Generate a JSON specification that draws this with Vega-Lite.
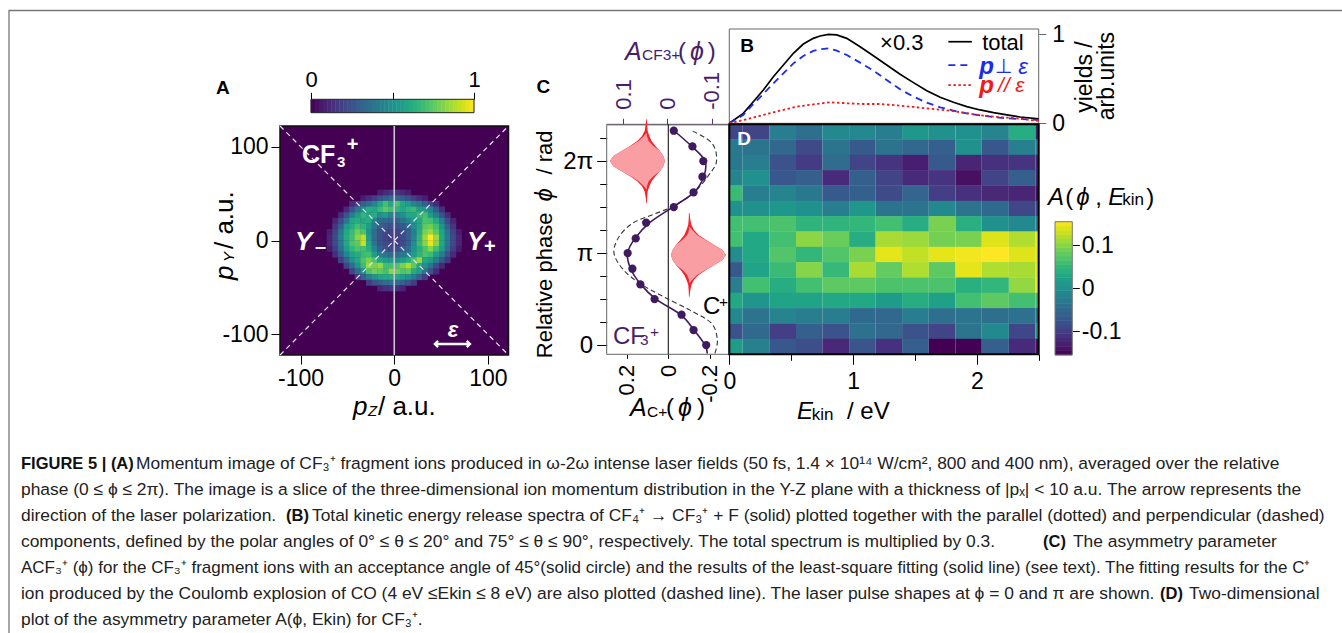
{"$schema":"https://vega.github.io/schema/vega-lite/v6.json","width":1342,"height":633,"padding":0,"autosize":{"type":"none"},"background":"white","config":{"view":{"stroke":null},"axis":{"grid":false,"labelFont":"Liberation Sans","labelColor":"#000","tickColor":"#000","domainColor":"#000","labelFlush":false,"labelOverlap":false,"labelBound":false},"text":{"font":"Liberation Sans"}},
"resolve":{"scale":{"x":"independent","y":"independent","color":"independent"},"axis":{"x":"independent","y":"independent"}},
"datasets":{
"a":[{"z":-15,"y":51,"v":0.08},{"z":-9,"y":51,"v":0.12},{"z":-3,"y":51,"v":0.15},{"z":3,"y":51,"v":0.15},{"z":9,"y":51,"v":0.12},{"z":15,"y":51,"v":0.08},
{"z":-33,"y":45,"v":0.08},{"z":-27,"y":45,"v":0.13},{"z":-21,"y":45,"v":0.18},{"z":-15,"y":45,"v":0.25},{"z":-9,"y":45,"v":0.3},{"z":-3,"y":45,"v":0.35},{"z":3,"y":45,"v":0.33},{"z":9,"y":45,"v":0.3},{"z":15,"y":45,"v":0.25},{"z":21,"y":45,"v":0.18},{"z":27,"y":45,"v":0.13},{"z":33,"y":45,"v":0.08},
{"z":-45,"y":39,"v":0.12},{"z":-39,"y":39,"v":0.2},{"z":-33,"y":39,"v":0.3},{"z":-27,"y":39,"v":0.35},{"z":-21,"y":39,"v":0.45},{"z":-15,"y":39,"v":0.6},{"z":-9,"y":39,"v":0.7},{"z":-3,"y":39,"v":0.6},{"z":3,"y":39,"v":0.72},{"z":9,"y":39,"v":0.6},{"z":15,"y":39,"v":0.55},{"z":21,"y":39,"v":0.45},{"z":27,"y":39,"v":0.4},{"z":33,"y":39,"v":0.3},{"z":39,"y":39,"v":0.2},{"z":45,"y":39,"v":0.12},
{"z":-51,"y":33,"v":0.12},{"z":-45,"y":33,"v":0.25},{"z":-39,"y":33,"v":0.4},{"z":-33,"y":33,"v":0.5},{"z":-27,"y":33,"v":0.62},{"z":-21,"y":33,"v":0.6},{"z":-15,"y":33,"v":0.68},{"z":-9,"y":33,"v":0.75},{"z":-3,"y":33,"v":0.7},{"z":3,"y":33,"v":0.65},{"z":9,"y":33,"v":0.6},{"z":15,"y":33,"v":0.65},{"z":21,"y":33,"v":0.68},{"z":27,"y":33,"v":0.55},{"z":33,"y":33,"v":0.55},{"z":39,"y":33,"v":0.45},{"z":45,"y":33,"v":0.28},{"z":51,"y":33,"v":0.13},
{"z":-57,"y":27,"v":0.12},{"z":-51,"y":27,"v":0.25},{"z":-45,"y":27,"v":0.42},{"z":-39,"y":27,"v":0.55},{"z":-33,"y":27,"v":0.65},{"z":-27,"y":27,"v":0.6},{"z":-21,"y":27,"v":0.62},{"z":-15,"y":27,"v":0.5},{"z":-9,"y":27,"v":0.55},{"z":-3,"y":27,"v":0.45},{"z":3,"y":27,"v":0.45},{"z":9,"y":27,"v":0.5},{"z":15,"y":27,"v":0.6},{"z":21,"y":27,"v":0.6},{"z":27,"y":27,"v":0.68},{"z":33,"y":27,"v":0.7},{"z":39,"y":27,"v":0.55},{"z":45,"y":27,"v":0.42},{"z":51,"y":27,"v":0.25},{"z":57,"y":27,"v":0.12},
{"z":-63,"y":21,"v":0.1},{"z":-57,"y":21,"v":0.22},{"z":-51,"y":21,"v":0.4},{"z":-45,"y":21,"v":0.6},{"z":-39,"y":21,"v":0.62},{"z":-33,"y":21,"v":0.6},{"z":-27,"y":21,"v":0.62},{"z":-21,"y":21,"v":0.45},{"z":-15,"y":21,"v":0.35},{"z":-9,"y":21,"v":0.32},{"z":-3,"y":21,"v":0.32},{"z":3,"y":21,"v":0.3},{"z":9,"y":21,"v":0.38},{"z":15,"y":21,"v":0.45},{"z":21,"y":21,"v":0.55},{"z":27,"y":21,"v":0.6},{"z":33,"y":21,"v":0.72},{"z":39,"y":21,"v":0.7},{"z":45,"y":21,"v":0.6},{"z":51,"y":21,"v":0.42},{"z":57,"y":21,"v":0.22},{"z":63,"y":21,"v":0.1},
{"z":-63,"y":15,"v":0.15},{"z":-57,"y":15,"v":0.3},{"z":-51,"y":15,"v":0.55},{"z":-45,"y":15,"v":0.62},{"z":-39,"y":15,"v":0.7},{"z":-33,"y":15,"v":0.65},{"z":-27,"y":15,"v":0.55},{"z":-21,"y":15,"v":0.4},{"z":-15,"y":15,"v":0.3},{"z":-9,"y":15,"v":0.27},{"z":-3,"y":15,"v":0.25},{"z":3,"y":15,"v":0.25},{"z":9,"y":15,"v":0.28},{"z":15,"y":15,"v":0.35},{"z":21,"y":15,"v":0.48},{"z":27,"y":15,"v":0.6},{"z":33,"y":15,"v":0.75},{"z":39,"y":15,"v":0.78},{"z":45,"y":15,"v":0.7},{"z":51,"y":15,"v":0.52},{"z":57,"y":15,"v":0.3},{"z":63,"y":15,"v":0.15},
{"z":-69,"y":9,"v":0.08},{"z":-63,"y":9,"v":0.2},{"z":-57,"y":9,"v":0.4},{"z":-51,"y":9,"v":0.6},{"z":-45,"y":9,"v":0.68},{"z":-39,"y":9,"v":0.78},{"z":-33,"y":9,"v":0.72},{"z":-27,"y":9,"v":0.5},{"z":-21,"y":9,"v":0.35},{"z":-15,"y":9,"v":0.25},{"z":-9,"y":9,"v":0.22},{"z":-3,"y":9,"v":0.2},{"z":3,"y":9,"v":0.2},{"z":9,"y":9,"v":0.22},{"z":15,"y":9,"v":0.3},{"z":21,"y":9,"v":0.42},{"z":27,"y":9,"v":0.62},{"z":33,"y":9,"v":0.8},{"z":39,"y":9,"v":0.85},{"z":45,"y":9,"v":0.75},{"z":51,"y":9,"v":0.58},{"z":57,"y":9,"v":0.38},{"z":63,"y":9,"v":0.2},{"z":69,"y":9,"v":0.08},
{"z":-69,"y":3,"v":0.1},{"z":-63,"y":3,"v":0.22},{"z":-57,"y":3,"v":0.42},{"z":-51,"y":3,"v":0.62},{"z":-45,"y":3,"v":0.7},{"z":-39,"y":3,"v":0.82},{"z":-33,"y":3,"v":0.9},{"z":-27,"y":3,"v":0.55},{"z":-21,"y":3,"v":0.35},{"z":-15,"y":3,"v":0.25},{"z":-9,"y":3,"v":0.2},{"z":-3,"y":3,"v":0.18},{"z":3,"y":3,"v":0.2},{"z":9,"y":3,"v":0.22},{"z":15,"y":3,"v":0.3},{"z":21,"y":3,"v":0.45},{"z":27,"y":3,"v":0.65},{"z":33,"y":3,"v":0.85},{"z":39,"y":3,"v":1},{"z":45,"y":3,"v":0.85},{"z":51,"y":3,"v":0.6},{"z":57,"y":3,"v":0.4},{"z":63,"y":3,"v":0.22},{"z":69,"y":3,"v":0.1},
{"z":-69,"y":-3,"v":0.1},{"z":-63,"y":-3,"v":0.22},{"z":-57,"y":-3,"v":0.4},{"z":-51,"y":-3,"v":0.6},{"z":-45,"y":-3,"v":0.72},{"z":-39,"y":-3,"v":0.75},{"z":-33,"y":-3,"v":0.92},{"z":-27,"y":-3,"v":0.6},{"z":-21,"y":-3,"v":0.38},{"z":-15,"y":-3,"v":0.25},{"z":-9,"y":-3,"v":0.22},{"z":-3,"y":-3,"v":0.2},{"z":3,"y":-3,"v":0.18},{"z":9,"y":-3,"v":0.22},{"z":15,"y":-3,"v":0.3},{"z":21,"y":-3,"v":0.48},{"z":27,"y":-3,"v":0.68},{"z":33,"y":-3,"v":0.82},{"z":39,"y":-3,"v":0.97},{"z":45,"y":-3,"v":0.82},{"z":51,"y":-3,"v":0.6},{"z":57,"y":-3,"v":0.4},{"z":63,"y":-3,"v":0.22},{"z":69,"y":-3,"v":0.1},
{"z":-69,"y":-9,"v":0.07},{"z":-63,"y":-9,"v":0.18},{"z":-57,"y":-9,"v":0.36},{"z":-51,"y":-9,"v":0.55},{"z":-45,"y":-9,"v":0.66},{"z":-39,"y":-9,"v":0.72},{"z":-33,"y":-9,"v":0.7},{"z":-27,"y":-9,"v":0.62},{"z":-21,"y":-9,"v":0.45},{"z":-15,"y":-9,"v":0.3},{"z":-9,"y":-9,"v":0.25},{"z":-3,"y":-9,"v":0.22},{"z":3,"y":-9,"v":0.22},{"z":9,"y":-9,"v":0.28},{"z":15,"y":-9,"v":0.35},{"z":21,"y":-9,"v":0.52},{"z":27,"y":-9,"v":0.62},{"z":33,"y":-9,"v":0.72},{"z":39,"y":-9,"v":0.82},{"z":45,"y":-9,"v":0.7},{"z":51,"y":-9,"v":0.55},{"z":57,"y":-9,"v":0.35},{"z":63,"y":-9,"v":0.18},{"z":69,"y":-9,"v":0.07},
{"z":-63,"y":-15,"v":0.13},{"z":-57,"y":-15,"v":0.28},{"z":-51,"y":-15,"v":0.45},{"z":-45,"y":-15,"v":0.58},{"z":-39,"y":-15,"v":0.62},{"z":-33,"y":-15,"v":0.68},{"z":-27,"y":-15,"v":0.7},{"z":-21,"y":-15,"v":0.55},{"z":-15,"y":-15,"v":0.42},{"z":-9,"y":-15,"v":0.38},{"z":-3,"y":-15,"v":0.35},{"z":3,"y":-15,"v":0.35},{"z":9,"y":-15,"v":0.4},{"z":15,"y":-15,"v":0.45},{"z":21,"y":-15,"v":0.55},{"z":27,"y":-15,"v":0.65},{"z":33,"y":-15,"v":0.72},{"z":39,"y":-15,"v":0.68},{"z":45,"y":-15,"v":0.55},{"z":51,"y":-15,"v":0.42},{"z":57,"y":-15,"v":0.25},{"z":63,"y":-15,"v":0.12},
{"z":-57,"y":-21,"v":0.18},{"z":-51,"y":-21,"v":0.32},{"z":-45,"y":-21,"v":0.5},{"z":-39,"y":-21,"v":0.6},{"z":-33,"y":-21,"v":0.72},{"z":-27,"y":-21,"v":0.8},{"z":-21,"y":-21,"v":0.72},{"z":-15,"y":-21,"v":0.6},{"z":-9,"y":-21,"v":0.55},{"z":-3,"y":-21,"v":0.55},{"z":3,"y":-21,"v":0.5},{"z":9,"y":-21,"v":0.55},{"z":15,"y":-21,"v":0.62},{"z":21,"y":-21,"v":0.72},{"z":27,"y":-21,"v":0.85},{"z":33,"y":-21,"v":0.6},{"z":39,"y":-21,"v":0.55},{"z":45,"y":-21,"v":0.42},{"z":51,"y":-21,"v":0.28},{"z":57,"y":-21,"v":0.15},
{"z":-51,"y":-27,"v":0.2},{"z":-45,"y":-27,"v":0.35},{"z":-39,"y":-27,"v":0.52},{"z":-33,"y":-27,"v":0.68},{"z":-27,"y":-27,"v":0.85},{"z":-21,"y":-27,"v":0.8},{"z":-15,"y":-27,"v":0.85},{"z":-9,"y":-27,"v":0.7},{"z":-3,"y":-27,"v":0.7},{"z":3,"y":-27,"v":0.72},{"z":9,"y":-27,"v":0.8},{"z":15,"y":-27,"v":0.88},{"z":21,"y":-27,"v":0.75},{"z":27,"y":-27,"v":0.6},{"z":33,"y":-27,"v":0.5},{"z":39,"y":-27,"v":0.38},{"z":45,"y":-27,"v":0.22},{"z":51,"y":-27,"v":0.1},
{"z":-45,"y":-33,"v":0.2},{"z":-39,"y":-33,"v":0.35},{"z":-33,"y":-33,"v":0.5},{"z":-27,"y":-33,"v":0.72},{"z":-21,"y":-33,"v":0.78},{"z":-15,"y":-33,"v":0.75},{"z":-9,"y":-33,"v":0.7},{"z":-3,"y":-33,"v":0.82},{"z":3,"y":-33,"v":0.78},{"z":9,"y":-33,"v":0.72},{"z":15,"y":-33,"v":0.75},{"z":21,"y":-33,"v":0.62},{"z":27,"y":-33,"v":0.55},{"z":33,"y":-33,"v":0.4},{"z":39,"y":-33,"v":0.25},{"z":45,"y":-33,"v":0.12},
{"z":-39,"y":-39,"v":0.17},{"z":-33,"y":-39,"v":0.3},{"z":-27,"y":-39,"v":0.42},{"z":-21,"y":-39,"v":0.52},{"z":-15,"y":-39,"v":0.58},{"z":-9,"y":-39,"v":0.6},{"z":-3,"y":-39,"v":0.62},{"z":3,"y":-39,"v":0.6},{"z":9,"y":-39,"v":0.55},{"z":15,"y":-39,"v":0.5},{"z":21,"y":-39,"v":0.42},{"z":27,"y":-39,"v":0.3},{"z":33,"y":-39,"v":0.18},
{"z":-27,"y":-45,"v":0.17},{"z":-21,"y":-45,"v":0.25},{"z":-15,"y":-45,"v":0.3},{"z":-9,"y":-45,"v":0.35},{"z":-3,"y":-45,"v":0.38},{"z":3,"y":-45,"v":0.35},{"z":9,"y":-45,"v":0.3},{"z":15,"y":-45,"v":0.25},{"z":21,"y":-45,"v":0.17},
{"z":-15,"y":-51,"v":0.1},{"z":-9,"y":-51,"v":0.14},{"z":-3,"y":-51,"v":0.16},{"z":3,"y":-51,"v":0.14},{"z":9,"y":-51,"v":0.1}],
"abar":[{"v":0.0125},{"v":0.0375},{"v":0.0625},{"v":0.0875},{"v":0.1125},{"v":0.1375},{"v":0.1625},{"v":0.1875},{"v":0.2125},{"v":0.2375},{"v":0.2625},{"v":0.2875},{"v":0.3125},{"v":0.3375},{"v":0.3625},{"v":0.3875},{"v":0.4125},{"v":0.4375},{"v":0.4625},{"v":0.4875},{"v":0.5125},{"v":0.5375},{"v":0.5625},{"v":0.5875},{"v":0.6125},{"v":0.6375},{"v":0.6625},{"v":0.6875},{"v":0.7125},{"v":0.7375},{"v":0.7625},{"v":0.7875},{"v":0.8125},{"v":0.8375},{"v":0.8625},{"v":0.8875},{"v":0.9125},{"v":0.9375},{"v":0.9625},{"v":0.9875}],
"dbar":[{"v":-0.15},{"v":-0.14},{"v":-0.13},{"v":-0.12},{"v":-0.11},{"v":-0.1},{"v":-0.09},{"v":-0.08},{"v":-0.07},{"v":-0.06},{"v":-0.05},{"v":-0.04},{"v":-0.03},{"v":-0.02},{"v":-0.01},{"v":0},{"v":0.01},{"v":0.02},{"v":0.03},{"v":0.04},{"v":0.05},{"v":0.06},{"v":0.07},{"v":0.08},{"v":0.09},{"v":0.1},{"v":0.11},{"v":0.12},{"v":0.13},{"v":0.14},{"v":0.15}],
"d":[
{"e0":0,"e1":0.108,"p":2.317,"v":-0.093},{"e0":0.108,"e1":0.323,"p":2.317,"v":-0.093},{"e0":0.323,"e1":0.539,"p":2.317,"v":-0.025},{"e0":0.539,"e1":0.752,"p":2.317,"v":-0.043},{"e0":0.752,"e1":0.968,"p":2.317,"v":-0.009},{"e0":0.968,"e1":1.183,"p":2.317,"v":-0.009},{"e0":1.183,"e1":1.396,"p":2.317,"v":-0.025},{"e0":1.396,"e1":1.612,"p":2.317,"v":0.009},{"e0":1.612,"e1":1.828,"p":2.317,"v":0},{"e0":1.828,"e1":2.04,"p":2.317,"v":0},{"e0":2.04,"e1":2.259,"p":2.317,"v":-0.016},{"e0":2.259,"e1":2.474,"p":2.317,"v":0.037},{"e0":2.474,"e1":2.5,"p":2.317,"v":-0.13},
{"e0":0,"e1":0.108,"p":2.15,"v":-0.031},{"e0":0.108,"e1":0.323,"p":2.15,"v":-0.037},{"e0":0.323,"e1":0.539,"p":2.15,"v":-0.053},{"e0":0.539,"e1":0.752,"p":2.15,"v":-0.087},{"e0":0.752,"e1":0.968,"p":2.15,"v":-0.037},{"e0":0.968,"e1":1.183,"p":2.15,"v":-0.068},{"e0":1.183,"e1":1.396,"p":2.15,"v":-0.037},{"e0":1.396,"e1":1.612,"p":2.15,"v":-0.053},{"e0":1.612,"e1":1.828,"p":2.15,"v":-0.062},{"e0":1.828,"e1":2.04,"p":2.15,"v":0},{"e0":2.04,"e1":2.259,"p":2.15,"v":-0.071},{"e0":2.259,"e1":2.474,"p":2.15,"v":-0.022},{"e0":2.474,"e1":2.5,"p":2.15,"v":-0.031},
{"e0":0,"e1":0.108,"p":1.983,"v":-0.031},{"e0":0.108,"e1":0.323,"p":1.983,"v":-0.025},{"e0":0.323,"e1":0.539,"p":1.983,"v":-0.078},{"e0":0.539,"e1":0.752,"p":1.983,"v":-0.102},{"e0":0.752,"e1":0.968,"p":1.983,"v":-0.047},{"e0":0.968,"e1":1.183,"p":1.983,"v":-0.093},{"e0":1.183,"e1":1.396,"p":1.983,"v":-0.109},{"e0":1.396,"e1":1.612,"p":1.983,"v":-0.13},{"e0":1.612,"e1":1.828,"p":1.983,"v":-0.068},{"e0":1.828,"e1":2.04,"p":1.983,"v":-0.124},{"e0":2.04,"e1":2.259,"p":1.983,"v":-0.112},{"e0":2.259,"e1":2.474,"p":1.983,"v":-0.109},{"e0":2.474,"e1":2.5,"p":1.983,"v":-0.124},
{"e0":0,"e1":0.108,"p":1.817,"v":-0.016},{"e0":0.108,"e1":0.323,"p":1.817,"v":0},{"e0":0.323,"e1":0.539,"p":1.817,"v":-0.071},{"e0":0.539,"e1":0.752,"p":1.817,"v":-0.062},{"e0":0.752,"e1":0.968,"p":1.817,"v":-0.118},{"e0":0.968,"e1":1.183,"p":1.817,"v":-0.062},{"e0":1.183,"e1":1.396,"p":1.817,"v":-0.093},{"e0":1.396,"e1":1.612,"p":1.817,"v":-0.118},{"e0":1.612,"e1":1.828,"p":1.817,"v":-0.109},{"e0":1.828,"e1":2.04,"p":1.817,"v":-0.143},{"e0":2.04,"e1":2.259,"p":1.817,"v":-0.093},{"e0":2.259,"e1":2.474,"p":1.817,"v":-0.062},{"e0":2.474,"e1":2.5,"p":1.817,"v":-0.124},
{"e0":0,"e1":0.108,"p":1.65,"v":0.056},{"e0":0.108,"e1":0.323,"p":1.65,"v":-0.025},{"e0":0.323,"e1":0.539,"p":1.65,"v":-0.016},{"e0":0.539,"e1":0.752,"p":1.65,"v":-0.031},{"e0":0.752,"e1":0.968,"p":1.65,"v":-0.068},{"e0":0.968,"e1":1.183,"p":1.65,"v":-0.062},{"e0":1.183,"e1":1.396,"p":1.65,"v":-0.087},{"e0":1.396,"e1":1.612,"p":1.65,"v":-0.056},{"e0":1.612,"e1":1.828,"p":1.65,"v":-0.099},{"e0":1.828,"e1":2.04,"p":1.65,"v":-0.112},{"e0":2.04,"e1":2.259,"p":1.65,"v":-0.121},{"e0":2.259,"e1":2.474,"p":1.65,"v":-0.124},{"e0":2.474,"e1":2.5,"p":1.65,"v":-0.146},
{"e0":0,"e1":0.108,"p":1.483,"v":0},{"e0":0.108,"e1":0.323,"p":1.483,"v":0},{"e0":0.323,"e1":0.539,"p":1.483,"v":0.009},{"e0":0.539,"e1":0.752,"p":1.483,"v":0},{"e0":0.752,"e1":0.968,"p":1.483,"v":-0.025},{"e0":0.968,"e1":1.183,"p":1.483,"v":0.009},{"e0":1.183,"e1":1.396,"p":1.483,"v":-0.037},{"e0":1.396,"e1":1.612,"p":1.483,"v":-0.037},{"e0":1.612,"e1":1.828,"p":1.483,"v":-0.009},{"e0":1.828,"e1":2.04,"p":1.483,"v":-0.037},{"e0":2.04,"e1":2.259,"p":1.483,"v":-0.05},{"e0":2.259,"e1":2.474,"p":1.483,"v":-0.09},{"e0":2.474,"e1":2.5,"p":1.483,"v":-0.093},
{"e0":0,"e1":0.108,"p":1.317,"v":0.062},{"e0":0.108,"e1":0.323,"p":1.317,"v":0.062},{"e0":0.323,"e1":0.539,"p":1.317,"v":0.068},{"e0":0.539,"e1":0.752,"p":1.317,"v":0.047},{"e0":0.752,"e1":0.968,"p":1.317,"v":0.047},{"e0":0.968,"e1":1.183,"p":1.317,"v":0.05},{"e0":1.183,"e1":1.396,"p":1.317,"v":0.062},{"e0":1.396,"e1":1.612,"p":1.317,"v":0.037},{"e0":1.612,"e1":1.828,"p":1.317,"v":0.093},{"e0":1.828,"e1":2.04,"p":1.317,"v":0.04},{"e0":2.04,"e1":2.259,"p":1.317,"v":0},{"e0":2.259,"e1":2.474,"p":1.317,"v":-0.009},{"e0":2.474,"e1":2.5,"p":1.317,"v":-0.016},
{"e0":0,"e1":0.108,"p":1.15,"v":0.062},{"e0":0.108,"e1":0.323,"p":1.15,"v":0.031},{"e0":0.323,"e1":0.539,"p":1.15,"v":0.062},{"e0":0.539,"e1":0.752,"p":1.15,"v":0.102},{"e0":0.752,"e1":0.968,"p":1.15,"v":0.084},{"e0":0.968,"e1":1.183,"p":1.15,"v":0.037},{"e0":1.183,"e1":1.396,"p":1.15,"v":0.115},{"e0":1.396,"e1":1.612,"p":1.15,"v":0.109},{"e0":1.612,"e1":1.828,"p":1.15,"v":0.09},{"e0":1.828,"e1":2.04,"p":1.15,"v":0.093},{"e0":2.04,"e1":2.259,"p":1.15,"v":0.14},{"e0":2.259,"e1":2.474,"p":1.15,"v":0.118},{"e0":2.474,"e1":2.5,"p":1.15,"v":0.146},
{"e0":0,"e1":0.108,"p":0.983,"v":-0.006},{"e0":0.108,"e1":0.323,"p":0.983,"v":0.031},{"e0":0.323,"e1":0.539,"p":0.983,"v":0.071},{"e0":0.539,"e1":0.752,"p":0.983,"v":0.05},{"e0":0.752,"e1":0.968,"p":0.983,"v":0.071},{"e0":0.968,"e1":1.183,"p":0.983,"v":0.093},{"e0":1.183,"e1":1.396,"p":0.983,"v":0.143},{"e0":1.396,"e1":1.612,"p":0.983,"v":0.127},{"e0":1.612,"e1":1.828,"p":0.983,"v":0.143},{"e0":1.828,"e1":2.04,"p":0.983,"v":0.149},{"e0":2.04,"e1":2.259,"p":0.983,"v":0.155},{"e0":2.259,"e1":2.474,"p":0.983,"v":0.14},{"e0":2.474,"e1":2.5,"p":0.983,"v":0.14},
{"e0":0,"e1":0.108,"p":0.817,"v":-0.068},{"e0":0.108,"e1":0.323,"p":0.817,"v":0.025},{"e0":0.323,"e1":0.539,"p":0.817,"v":0.056},{"e0":0.539,"e1":0.752,"p":0.817,"v":0.099},{"e0":0.752,"e1":0.968,"p":0.817,"v":0.053},{"e0":0.968,"e1":1.183,"p":0.817,"v":0.115},{"e0":1.183,"e1":1.396,"p":0.817,"v":0.081},{"e0":1.396,"e1":1.612,"p":0.817,"v":0.118},{"e0":1.612,"e1":1.828,"p":0.817,"v":0.078},{"e0":1.828,"e1":2.04,"p":0.817,"v":0.143},{"e0":2.04,"e1":2.259,"p":0.817,"v":0.118},{"e0":2.259,"e1":2.474,"p":0.817,"v":0.115},{"e0":2.474,"e1":2.5,"p":0.817,"v":0.14},
{"e0":0,"e1":0.108,"p":0.65,"v":-0.025},{"e0":0.108,"e1":0.323,"p":0.65,"v":0.062},{"e0":0.323,"e1":0.539,"p":0.65,"v":0.037},{"e0":0.539,"e1":0.752,"p":0.65,"v":0.062},{"e0":0.752,"e1":0.968,"p":0.65,"v":0.078},{"e0":0.968,"e1":1.183,"p":0.65,"v":0.078},{"e0":1.183,"e1":1.396,"p":0.65,"v":0.068},{"e0":1.396,"e1":1.612,"p":0.65,"v":0.068},{"e0":1.612,"e1":1.828,"p":0.65,"v":0.068},{"e0":1.828,"e1":2.04,"p":0.65,"v":0.04},{"e0":2.04,"e1":2.259,"p":0.65,"v":0.05},{"e0":2.259,"e1":2.474,"p":0.65,"v":0.105},{"e0":2.474,"e1":2.5,"p":0.65,"v":0.146},
{"e0":0,"e1":0.108,"p":0.483,"v":0.031},{"e0":0.108,"e1":0.323,"p":0.483,"v":0.006},{"e0":0.323,"e1":0.539,"p":0.483,"v":0.025},{"e0":0.539,"e1":0.752,"p":0.483,"v":0.025},{"e0":0.752,"e1":0.968,"p":0.483,"v":0.031},{"e0":0.968,"e1":1.183,"p":0.483,"v":0.031},{"e0":1.183,"e1":1.396,"p":0.483,"v":0.016},{"e0":1.396,"e1":1.612,"p":0.483,"v":0.037},{"e0":1.612,"e1":1.828,"p":0.483,"v":0.022},{"e0":1.828,"e1":2.04,"p":0.483,"v":0.062},{"e0":2.04,"e1":2.259,"p":0.483,"v":0.078},{"e0":2.259,"e1":2.474,"p":0.483,"v":0.062},{"e0":2.474,"e1":2.5,"p":0.483,"v":0.062},
{"e0":0,"e1":0.108,"p":0.317,"v":-0.009},{"e0":0.108,"e1":0.323,"p":0.317,"v":-0.037},{"e0":0.323,"e1":0.539,"p":0.317,"v":-0.016},{"e0":0.539,"e1":0.752,"p":0.317,"v":-0.025},{"e0":0.752,"e1":0.968,"p":0.317,"v":-0.025},{"e0":0.968,"e1":1.183,"p":0.317,"v":-0.05},{"e0":1.183,"e1":1.396,"p":0.317,"v":-0.053},{"e0":1.396,"e1":1.612,"p":0.317,"v":-0.025},{"e0":1.612,"e1":1.828,"p":0.317,"v":-0.043},{"e0":1.828,"e1":2.04,"p":0.317,"v":-0.037},{"e0":2.04,"e1":2.259,"p":0.317,"v":-0.043},{"e0":2.259,"e1":2.474,"p":0.317,"v":-0.04},{"e0":2.474,"e1":2.5,"p":0.317,"v":-0.037},
{"e0":0,"e1":0.108,"p":0.15,"v":-0.078},{"e0":0.108,"e1":0.323,"p":0.15,"v":-0.05},{"e0":0.323,"e1":0.539,"p":0.15,"v":-0.099},{"e0":0.539,"e1":0.752,"p":0.15,"v":-0.062},{"e0":0.752,"e1":0.968,"p":0.15,"v":-0.078},{"e0":0.968,"e1":1.183,"p":0.15,"v":-0.04},{"e0":1.183,"e1":1.396,"p":0.15,"v":-0.053},{"e0":1.396,"e1":1.612,"p":0.15,"v":-0.078},{"e0":1.612,"e1":1.828,"p":0.15,"v":-0.093},{"e0":1.828,"e1":2.04,"p":0.15,"v":-0.037},{"e0":2.04,"e1":2.259,"p":0.15,"v":-0.009},{"e0":2.259,"e1":2.474,"p":0.15,"v":-0.09},{"e0":2.474,"e1":2.5,"p":0.15,"v":0.016},
{"e0":0,"e1":0.108,"p":-0.017,"v":0.016},{"e0":0.108,"e1":0.323,"p":-0.017,"v":-0.022},{"e0":0.323,"e1":0.539,"p":-0.017,"v":-0.071},{"e0":0.539,"e1":0.752,"p":-0.017,"v":-0.081},{"e0":0.752,"e1":0.968,"p":-0.017,"v":-0.121},{"e0":0.968,"e1":1.183,"p":-0.017,"v":-0.074},{"e0":1.183,"e1":1.396,"p":-0.017,"v":-0.112},{"e0":1.396,"e1":1.612,"p":-0.017,"v":-0.062},{"e0":1.612,"e1":1.828,"p":-0.017,"v":-0.155},{"e0":1.828,"e1":2.04,"p":-0.017,"v":-0.155},{"e0":2.04,"e1":2.259,"p":-0.017,"v":-0.062},{"e0":2.259,"e1":2.474,"p":-0.017,"v":-0.118},{"e0":2.474,"e1":2.5,"p":-0.017,"v":-0.146}],
"total":[{"e":0,"y":0},{"e":0.113,"y":0.112},{"e":0.194,"y":0.243},{"e":0.275,"y":0.375},{"e":0.356,"y":0.524},{"e":0.437,"y":0.655},{"e":0.518,"y":0.787},{"e":0.598,"y":0.891},{"e":0.679,"y":0.955},{"e":0.733,"y":0.981},{"e":0.801,"y":1},{"e":0.868,"y":0.993},{"e":0.949,"y":0.955},{"e":1.057,"y":0.861},{"e":1.164,"y":0.76},{"e":1.272,"y":0.655},{"e":1.38,"y":0.551},{"e":1.488,"y":0.457},{"e":1.596,"y":0.367},{"e":1.704,"y":0.292},{"e":1.811,"y":0.236},{"e":1.919,"y":0.187},{"e":2.027,"y":0.15},{"e":2.135,"y":0.12},{"e":2.243,"y":0.094},{"e":2.35,"y":0.071},{"e":2.5,"y":0.049}],
"perp":[{"e":0,"y":0},{"e":0.113,"y":0.094},{"e":0.194,"y":0.217},{"e":0.275,"y":0.33},{"e":0.356,"y":0.449},{"e":0.437,"y":0.562},{"e":0.518,"y":0.674},{"e":0.598,"y":0.757},{"e":0.679,"y":0.813},{"e":0.747,"y":0.835},{"e":0.801,"y":0.843},{"e":0.868,"y":0.816},{"e":0.949,"y":0.768},{"e":1.057,"y":0.682},{"e":1.164,"y":0.592},{"e":1.272,"y":0.487},{"e":1.38,"y":0.382},{"e":1.488,"y":0.3},{"e":1.596,"y":0.232},{"e":1.704,"y":0.18},{"e":1.811,"y":0.142},{"e":1.919,"y":0.112},{"e":2.027,"y":0.09},{"e":2.135,"y":0.071},{"e":2.243,"y":0.056},{"e":2.5,"y":0.037}],
"par":[{"e":0,"y":0},{"e":0.14,"y":0.045},{"e":0.275,"y":0.094},{"e":0.41,"y":0.142},{"e":0.544,"y":0.187},{"e":0.679,"y":0.213},{"e":0.814,"y":0.236},{"e":0.949,"y":0.225},{"e":1.084,"y":0.217},{"e":1.218,"y":0.217},{"e":1.353,"y":0.202},{"e":1.488,"y":0.184},{"e":1.623,"y":0.165},{"e":1.757,"y":0.146},{"e":1.892,"y":0.12},{"e":2.027,"y":0.09},{"e":2.162,"y":0.071},{"e":2.297,"y":0.06},{"e":2.5,"y":0.026}],
"circ":[{"a":-0.0876,"phi":0},{"a":-0.059,"phi":0.164},{"a":-0.032,"phi":0.33},{"a":0.029,"phi":0.5},{"a":0.061,"phi":0.66},{"a":0.079,"phi":0.83},{"a":0.0897,"phi":1},{"a":0.0715,"phi":1.16},{"a":0.048,"phi":1.33},{"a":-0.0144,"phi":1.5},{"a":-0.059,"phi":1.66},{"a":-0.079,"phi":1.83},{"a":-0.081,"phi":2},{"a":-0.0565,"phi":2.16},{"a":-0.0144,"phi":2.33}],
"fit":[{"a":-0.09,"phi":-0.09},{"a":-0.085,"phi":0},{"a":-0.06,"phi":0.164},{"a":-0.03,"phi":0.33},{"a":0.026,"phi":0.5},{"a":0.06,"phi":0.66},{"a":0.083,"phi":0.83},{"a":0.09,"phi":1},{"a":0.073,"phi":1.16},{"a":0.04,"phi":1.33},{"a":-0.012,"phi":1.5},{"a":-0.06,"phi":1.66},{"a":-0.082,"phi":1.83},{"a":-0.085,"phi":2},{"a":-0.055,"phi":2.16},{"a":-0.015,"phi":2.33}],
"cfit":[{"a":-0.224,"phi":-0.09},{"a":-0.236,"phi":0.055},{"a":-0.208,"phi":0.236},{"a":-0.104,"phi":0.38},{"a":0.024,"phi":0.527},{"a":0.136,"phi":0.67},{"a":0.216,"phi":0.82},{"a":0.261,"phi":1},{"a":0.236,"phi":1.18},{"a":0.168,"phi":1.33},{"a":0.072,"phi":1.42},{"a":-0.024,"phi":1.51},{"a":-0.12,"phi":1.65},{"a":-0.192,"phi":1.84},{"a":-0.232,"phi":2},{"a":-0.208,"phi":2.2},{"a":-0.104,"phi":2.34}],
"red":[{"p":"b","phi":1.545,"a":0.1056,"b":0.1024},{"p":"b","phi":1.6,"a":0.108,"b":0.1016},{"p":"b","phi":1.673,"a":0.114,"b":0.099},{"p":"b","phi":1.727,"a":0.126,"b":0.091},{"p":"b","phi":1.782,"a":0.149,"b":0.08},{"p":"b","phi":1.836,"a":0.184,"b":0.062},{"p":"b","phi":1.891,"a":0.224,"b":0.04},{"p":"b","phi":1.945,"a":0.264,"b":0.024},{"p":"b","phi":2,"a":0.28,"b":0.016},{"p":"b","phi":2.055,"a":0.264,"b":0.024},{"p":"b","phi":2.109,"a":0.224,"b":0.04},{"p":"b","phi":2.164,"a":0.184,"b":0.062},{"p":"b","phi":2.218,"a":0.149,"b":0.08},{"p":"b","phi":2.273,"a":0.126,"b":0.091},{"p":"b","phi":2.327,"a":0.114,"b":0.099},{"p":"b","phi":2.4,"a":0.108,"b":0.1016},{"p":"b","phi":2.455,"a":0.1056,"b":0.1024},
{"p":"a","phi":0.525,"a":-0.0994,"b":-0.1026},{"p":"a","phi":0.58,"a":-0.0986,"b":-0.105},{"p":"a","phi":0.653,"a":-0.096,"b":-0.111},{"p":"a","phi":0.707,"a":-0.088,"b":-0.123},{"p":"a","phi":0.762,"a":-0.077,"b":-0.146},{"p":"a","phi":0.816,"a":-0.059,"b":-0.181},{"p":"a","phi":0.871,"a":-0.037,"b":-0.221},{"p":"a","phi":0.925,"a":-0.021,"b":-0.261},{"p":"a","phi":0.98,"a":-0.013,"b":-0.277},{"p":"a","phi":1.035,"a":-0.021,"b":-0.261},{"p":"a","phi":1.089,"a":-0.037,"b":-0.221},{"p":"a","phi":1.144,"a":-0.059,"b":-0.181},{"p":"a","phi":1.198,"a":-0.077,"b":-0.146},{"p":"a","phi":1.253,"a":-0.088,"b":-0.123},{"p":"a","phi":1.307,"a":-0.096,"b":-0.111},{"p":"a","phi":1.38,"a":-0.0986,"b":-0.105},{"p":"a","phi":1.435,"a":-0.0994,"b":-0.1026}],
"pink":[{"p":"b","phi":1.691,"a":0.104,"b":0.104},{"p":"b","phi":1.727,"a":0.117,"b":0.103},{"p":"b","phi":1.782,"a":0.142,"b":0.094},{"p":"b","phi":1.836,"a":0.181,"b":0.072},{"p":"b","phi":1.891,"a":0.224,"b":0.04},{"p":"b","phi":1.945,"a":0.264,"b":0.024},{"p":"b","phi":2,"a":0.28,"b":0.016},{"p":"b","phi":2.055,"a":0.264,"b":0.024},{"p":"b","phi":2.109,"a":0.224,"b":0.04},{"p":"b","phi":2.164,"a":0.181,"b":0.072},{"p":"b","phi":2.218,"a":0.142,"b":0.094},{"p":"b","phi":2.273,"a":0.117,"b":0.103},{"p":"b","phi":2.309,"a":0.104,"b":0.104},
{"p":"a","phi":0.671,"a":-0.101,"b":-0.101},{"p":"a","phi":0.707,"a":-0.1,"b":-0.114},{"p":"a","phi":0.762,"a":-0.091,"b":-0.139},{"p":"a","phi":0.816,"a":-0.069,"b":-0.178},{"p":"a","phi":0.871,"a":-0.037,"b":-0.221},{"p":"a","phi":0.925,"a":-0.021,"b":-0.261},{"p":"a","phi":0.98,"a":-0.013,"b":-0.277},{"p":"a","phi":1.035,"a":-0.021,"b":-0.261},{"p":"a","phi":1.089,"a":-0.037,"b":-0.221},{"p":"a","phi":1.144,"a":-0.069,"b":-0.178},{"p":"a","phi":1.198,"a":-0.091,"b":-0.139},{"p":"a","phi":1.253,"a":-0.1,"b":-0.114},{"p":"a","phi":1.289,"a":-0.101,"b":-0.101}]
},
"layer":[
{"data":{"values":[{"i":0,"x":0,"y":0},{"i":1,"x":0,"y":1},{"i":2,"x":1,"y":1}]},"mark":{"type":"line","color":"#777","strokeWidth":1.3},"encoding":{"x":{"field":"x","type":"quantitative","scale":{"domain":[0,1],"range":[9,1342],"nice":false,"zero":false},"axis":null},"y":{"field":"y","type":"quantitative","scale":{"domain":[0,1],"range":[633,10.5],"nice":false,"zero":false},"axis":null},"order":{"field":"i"}}},
{"layer":[
{"data":{"values":[{"col":0,"line":1,"t":"FIGURE 5 | (A)"},{"col":265,"line":3,"t":"(B)"},{"col":1022,"line":4,"t":"(C)"},{"col":1139,"line":6,"t":"(D)"}]},"mark":{"type":"text","font":"Liberation Sans","fontSize":16.5,"fontWeight":"bold","align":"left","baseline":"middle","color":"#111"},"encoding":{"x":{"field":"col","type":"quantitative","scale":{"domain":[0,1301],"range":[21,1322],"nice":false,"zero":false},"axis":null},"y":{"field":"line","type":"quantitative","scale":{"domain":[1,7],"range":[464,620],"nice":false,"zero":false},"axis":null},"text":{"field":"t"}}},
{"data":{"values":[
{"col":115,"line":1,"t":"Momentum image of CF₃⁺ fragment ions produced in ω-2ω intense laser fields (50 fs, 1.4 × 10¹⁴ W/cm², 800 and 400 nm), averaged over the relative"},
{"col":0,"line":2,"t":"phase (0 ≤ ϕ ≤ 2π). The image is a slice of the three-dimensional ion momentum distribution in the Y-Z plane with a thickness of |pₓ| < 10 a.u. The arrow represents the"},
{"col":0,"line":3,"t":"direction of the laser polarization."},
{"col":291,"line":3,"t":"Total kinetic energy release spectra of CF₄⁺ → CF₃⁺ + F (solid) plotted together with the parallel (dotted) and perpendicular (dashed)"},
{"col":0,"line":4,"t":"components, defined by the polar angles of 0° ≤ θ ≤ 20° and 75° ≤ θ ≤ 90°, respectively. The total spectrum is multiplied by 0.3."},
{"col":1052,"line":4,"t":"The asymmetry parameter"},
{"col":0,"line":6,"t":"ion produced by the Coulomb explosion of CO (4 eV ≤Ekin ≤ 8 eV) are also plotted (dashed line). The laser pulse shapes at ϕ = 0 and π are shown."},
{"col":1168,"line":6,"t":"Two-dimensional"},
{"col":0,"line":7,"t":"plot of the asymmetry parameter A(ϕ, Ekin) for CF₃⁺."}]},"mark":{"type":"text","font":"Liberation Sans","fontSize":17.4,"align":"left","baseline":"middle","color":"#222"},"encoding":{"x":{"field":"col","type":"quantitative","axis":null},"y":{"field":"line","type":"quantitative","axis":null},"text":{"field":"t"}}},
{"data":{"values":[{"col":0,"line":5,"t":"ACF₃⁺ (ϕ) for the CF₃⁺ fragment ions with an acceptance angle of 45°(solid circle) and the results of the least-square fitting (solid line) (see text). The fitting results for the C⁺"}]},"mark":{"type":"text","font":"Liberation Sans","fontSize":17,"align":"left","baseline":"middle","color":"#222"},"encoding":{"x":{"field":"col","type":"quantitative","axis":null},"y":{"field":"line","type":"quantitative","axis":null},"text":{"field":"t"}}}
]},
{"layer":[
{"data":{"values":[{"x0":-122,"x1":122,"y0":-122,"y1":122}]},"mark":{"type":"rect","fill":"#440154","stroke":"#111","strokeWidth":1.5},"encoding":{"x":{"field":"x0","type":"quantitative","scale":{"domain":[-122,122],"range":[280,508.5],"padding":0,"nice":false,"zero":false},"axis":{"title":null,"orient":"bottom","offset":-278,"values":[-100,0,100],"domain":false,"tickSize":9,"labelFontSize":23,"labelPadding":3,"labelExpr":"''+datum.value"}},"x2":{"field":"x1"},"y":{"field":"y0","type":"quantitative","scale":{"domain":[-122,122],"range":[355,126],"padding":0,"nice":false,"zero":false},"axis":{"title":null,"orient":"left","offset":-280,"values":[-100,0,100],"domain":false,"tickSize":9,"labelFontSize":23,"labelPadding":3,"labelExpr":"''+datum.value"}},"y2":{"field":"y1"}}},
{"data":{"name":"a"},"mark":{"type":"rect","width":6,"height":6},"encoding":{"x":{"field":"z","type":"quantitative","axis":{"title":null}},"y":{"field":"y","type":"quantitative","axis":{"title":null}},"color":{"field":"v","type":"quantitative","scale":{"scheme":"viridis","domain":[0,1]},"legend":null}}},
{"data":{"values":[{"x":0,"y":-122,"y2":122}]},"mark":{"type":"rule","color":"#c9c3d3","strokeWidth":1.6},"encoding":{"x":{"field":"x","type":"quantitative","axis":{"title":null}},"y":{"field":"y","type":"quantitative","axis":{"title":null}},"y2":{"field":"y2"}}},
{"data":{"values":[{"x":-122,"x2":122,"y":-122,"y2":122},{"x":-122,"x2":122,"y":122,"y2":-122}]},"mark":{"type":"rule","color":"#e8e4ee","strokeWidth":1.2,"strokeDash":[5,4]},"encoding":{"x":{"field":"x","type":"quantitative","axis":{"title":null}},"x2":{"field":"x2"},"y":{"field":"y","type":"quantitative","axis":{"title":null}},"y2":{"field":"y2"}}},
{"data":{"values":[{"x":43.4,"x2":80.8,"y":-110.3}]},"mark":{"type":"rule","color":"white","strokeWidth":2.4},"encoding":{"x":{"field":"x","type":"quantitative","axis":{"title":null}},"x2":{"field":"x2"},"y":{"field":"y","type":"quantitative","axis":{"title":null}}}},
{"data":{"values":[{"x":80.8,"y":-110.3}]},"mark":{"type":"point","shape":"M-1,-1L0,0L-1,1","filled":false,"stroke":"white","strokeWidth":2.4,"size":40,"opacity":1},"encoding":{"x":{"field":"x","type":"quantitative","axis":{"title":null}},"y":{"field":"y","type":"quantitative","axis":{"title":null}}}},
{"data":{"values":[{"x":43.4,"y":-110.3}]},"mark":{"type":"point","shape":"M1,-1L0,0L1,1","filled":false,"stroke":"white","strokeWidth":2.4,"size":40,"opacity":1},"encoding":{"x":{"field":"x","type":"quantitative","axis":{"title":null}},"y":{"field":"y","type":"quantitative","axis":{"title":null}}}},
{"data":{"values":[{"x":-182.9,"y":162.5,"t":"A"}]},"mark":{"type":"text","fontSize":19,"fontWeight":"bold","align":"center","baseline":"middle","color":"#000"},"encoding":{"x":{"field":"x","type":"quantitative","axis":{"title":null}},"y":{"field":"y","type":"quantitative","axis":{"title":null}},"text":{"field":"t"}}},
{"data":{"values":[{"x":-98.5,"y":91.1,"t":"CF"}]},"mark":{"type":"text","fontSize":25,"fontWeight":"bold","align":"left","baseline":"middle","color":"white"},"encoding":{"x":{"field":"x","type":"quantitative","axis":{"title":null}},"y":{"field":"y","type":"quantitative","axis":{"title":null}},"text":{"field":"t"}}},
{"data":{"values":[{"x":-61.2,"y":83.6,"t":"3"}]},"mark":{"type":"text","fontSize":15,"fontWeight":"bold","align":"left","baseline":"middle","color":"white"},"encoding":{"x":{"field":"x","type":"quantitative","axis":{"title":null}},"y":{"field":"y","type":"quantitative","axis":{"title":null}},"text":{"field":"t"}}},
{"data":{"values":[{"x":-50.6,"y":101.8,"t":"+"},{"x":-84.7,"y":-7,"t":"–"},{"x":95.8,"y":-7,"t":"+"}]},"mark":{"type":"text","fontSize":20,"fontWeight":"bold","align":"left","baseline":"middle","color":"white"},"encoding":{"x":{"field":"x","type":"quantitative","axis":{"title":null}},"y":{"field":"y","type":"quantitative","axis":{"title":null}},"text":{"field":"t"}}},
{"data":{"values":[{"x":-106,"y":-1.6,"t":"Y"},{"x":77.7,"y":-1.6,"t":"Y"}]},"mark":{"type":"text","fontSize":26,"fontWeight":"bold","fontStyle":"italic","align":"left","baseline":"middle","color":"white"},"encoding":{"x":{"field":"x","type":"quantitative","axis":{"title":null}},"y":{"field":"y","type":"quantitative","axis":{"title":null}},"text":{"field":"t"}}},
{"data":{"values":[{"x":62.7,"y":-95.4,"t":"ε"}]},"mark":{"type":"text","fontSize":22,"fontWeight":"bold","fontStyle":"italic","align":"center","baseline":"middle","color":"white"},"encoding":{"x":{"field":"x","type":"quantitative","axis":{"title":null}},"y":{"field":"y","type":"quantitative","axis":{"title":null}},"text":{"field":"t"}}},
{"data":{"values":[{"x":-44,"y":-177.4,"t":"p"}]},"mark":{"type":"text","fontSize":26,"fontStyle":"italic","align":"left","baseline":"middle","color":"#000"},"encoding":{"x":{"field":"x","type":"quantitative","axis":{"title":null}},"y":{"field":"y","type":"quantitative","axis":{"title":null}},"text":{"field":"t"}}},
{"data":{"values":[{"x":-28,"y":-181.7,"t":"Z"}]},"mark":{"type":"text","fontSize":15,"fontStyle":"italic","align":"left","baseline":"middle","color":"#000"},"encoding":{"x":{"field":"x","type":"quantitative","axis":{"title":null}},"y":{"field":"y","type":"quantitative","axis":{"title":null}},"text":{"field":"t"}}},
{"data":{"values":[{"x":-17.4,"y":-177.4,"t":"/ a.u."}]},"mark":{"type":"text","fontSize":26,"align":"left","baseline":"middle","color":"#000"},"encoding":{"x":{"field":"x","type":"quantitative","axis":{"title":null}},"y":{"field":"y","type":"quantitative","axis":{"title":null}},"text":{"field":"t"}}},
{"data":{"values":[{"x":-180.7,"y":-42.1,"t":"p"}]},"mark":{"type":"text","fontSize":26,"fontStyle":"italic","align":"left","baseline":"middle","angle":270,"color":"#000"},"encoding":{"x":{"field":"x","type":"quantitative","axis":{"title":null}},"y":{"field":"y","type":"quantitative","axis":{"title":null}},"text":{"field":"t"}}},
{"data":{"values":[{"x":-176.5,"y":-22.9,"t":"Y"}]},"mark":{"type":"text","fontSize":15,"fontStyle":"italic","align":"left","baseline":"middle","angle":270,"color":"#000"},"encoding":{"x":{"field":"x","type":"quantitative","axis":{"title":null}},"y":{"field":"y","type":"quantitative","axis":{"title":null}},"text":{"field":"t"}}},
{"data":{"values":[{"x":-180.7,"y":-9.1,"t":"/ a.u."}]},"mark":{"type":"text","fontSize":26,"align":"left","baseline":"middle","angle":270,"color":"#000"},"encoding":{"x":{"field":"x","type":"quantitative","axis":{"title":null}},"y":{"field":"y","type":"quantitative","axis":{"title":null}},"text":{"field":"t"}}}
]},
{"layer":[
{"data":{"name":"abar"},"mark":{"type":"rect","width":4.5,"height":13.4},"encoding":{"x":{"field":"v","type":"quantitative","scale":{"domain":[0,1],"range":[311,474],"padding":0,"nice":false,"zero":false},"axis":{"title":null,"orient":"top","offset":-99.3,"values":[0,0.5,1],"domain":false,"tickSize":7,"labelFontSize":22,"labelPadding":1,"labelExpr":"datum.value==0.5?'':''+datum.value"}},"y":{"datum":0.5,"type":"quantitative","scale":{"domain":[0,1],"range":[112.7,99.3],"padding":0,"nice":false,"zero":false},"axis":null},"color":{"field":"v","type":"quantitative","scale":{"scheme":"viridis","domain":[0,1]},"legend":null}}},
{"data":{"values":[{"x0":0,"x1":1,"y0":0,"y1":1}]},"mark":{"type":"rect","fillOpacity":0,"stroke":"#222","strokeWidth":1},"encoding":{"x":{"field":"x0","type":"quantitative","axis":{"title":null}},"x2":{"field":"x1"},"y":{"field":"y0","type":"quantitative","axis":null},"y2":{"field":"y1"}}}
]},
{"layer":[
{"data":{"values":[{"x0":0.296,"x1":-0.292,"y0":-0.1,"y1":2.4}]},"mark":{"type":"rect","fillOpacity":0,"stroke":"#666","strokeWidth":1},"encoding":{"x":{"field":"x0","type":"quantitative","scale":{"domain":[0.296,-0.292],"range":[606.7,729],"padding":0,"nice":false,"zero":false},"axis":{"title":null,"orient":"bottom","offset":-278.7,"values":[0.2,0,-0.2],"domain":false,"tickSize":4,"labelFontSize":22,"labelAngle":270,"labelAlign":"right","labelBaseline":"middle","labelPadding":6,"labelExpr":"''+datum.value"}},"x2":{"field":"x1"},"y":{"field":"y0","type":"quantitative","scale":{"domain":[-0.1,2.4],"range":[354.3,124.3],"padding":0,"nice":false,"zero":false},"axis":{"title":null,"orient":"left","offset":-606.7,"values":[0,0.25,0.5,0.75,1,1.25,1.5,1.75,2,2.25],"domain":false,"tickSize":{"condition":{"test":"datum.value%1==0","value":10},"value":7},"labelFontSize":24,"labelPadding":4,"labelExpr":"datum.value==0?'0':datum.value==1?'π':datum.value==2?'2π':''"}},"y2":{"field":"y1"}}},
{"data":{"name":"red"},"mark":{"type":"area","orient":"horizontal","color":"#f5232b"},"encoding":{"x":{"field":"a","type":"quantitative","stack":null,"axis":{"title":null}},"x2":{"field":"b"},"y":{"field":"phi","type":"quantitative","axis":{"title":null}},"detail":{"field":"p"}}},
{"data":{"name":"pink"},"mark":{"type":"area","orient":"horizontal","color":"#f99ea2"},"encoding":{"x":{"field":"a","type":"quantitative","stack":null,"axis":{"title":null}},"x2":{"field":"b"},"y":{"field":"phi","type":"quantitative","axis":{"title":null}},"detail":{"field":"p"}}},
{"data":{"values":[{"x":0,"y":-0.1,"y2":2.4}]},"mark":{"type":"rule","color":"#000","strokeWidth":1},"encoding":{"x":{"field":"x","type":"quantitative","axis":{"title":null}},"y":{"field":"y","type":"quantitative","axis":{"title":null}},"y2":{"field":"y2"}}},
{"data":{"name":"cfit"},"mark":{"type":"line","interpolate":"cardinal","color":"#333","strokeWidth":1.1,"strokeDash":[5,3]},"encoding":{"x":{"field":"a","type":"quantitative","axis":{"title":null}},"y":{"field":"phi","type":"quantitative","axis":{"title":null}},"order":{"field":"phi","type":"quantitative"}}},
{"data":{"values":[{"x":0.601,"y":2.804,"t":"C"}]},"mark":{"type":"text","fontSize":19,"fontWeight":"bold","align":"center","baseline":"middle","color":"#000"},"encoding":{"x":{"field":"x","type":"quantitative","axis":{"title":null}},"y":{"field":"y","type":"quantitative","axis":{"title":null}},"text":{"field":"t"}}},
{"data":{"values":[{"x":0.208,"y":3.186,"t":"A"},{"x":-0.104,"y":3.186,"t":"ϕ"}]},"mark":{"type":"text","fontSize":25,"fontStyle":"italic","align":"left","baseline":"middle","color":"#4a1d6a"},"encoding":{"x":{"field":"x","type":"quantitative","axis":{"title":null}},"y":{"field":"y","type":"quantitative","axis":{"title":null}},"text":{"field":"t"}}},
{"data":{"values":[{"x":-0.047,"y":3.186,"t":"("},{"x":-0.19,"y":3.186,"t":")"},{"x":0.266,"y":0.087,"t":"CF"}]},"mark":{"type":"text","fontSize":24,"align":"left","baseline":"middle","color":"#4a1d6a"},"encoding":{"x":{"field":"x","type":"quantitative","axis":{"title":null}},"y":{"field":"y","type":"quantitative","axis":{"title":null}},"text":{"field":"t"}}},
{"data":{"values":[{"x":0.126,"y":3.153,"t":"CF3+"},{"x":0.136,"y":0.055,"t":"3"},{"x":0.088,"y":0.142,"t":"+"}]},"mark":{"type":"text","fontSize":15.5,"align":"left","baseline":"middle","color":"#4a1d6a"},"encoding":{"x":{"field":"x","type":"quantitative","axis":{"title":null}},"y":{"field":"y","type":"quantitative","axis":{"title":null}},"text":{"field":"t"}}},
{"data":{"values":[{"x":0.184,"y":-0.687,"t":"A"},{"x":-0.047,"y":-0.687,"t":"ϕ"}]},"mark":{"type":"text","fontSize":25,"fontStyle":"italic","align":"left","baseline":"middle","color":"#000"},"encoding":{"x":{"field":"x","type":"quantitative","axis":{"title":null}},"y":{"field":"y","type":"quantitative","axis":{"title":null}},"text":{"field":"t"}}},
{"data":{"values":[{"x":0.011,"y":-0.687,"t":"("},{"x":-0.138,"y":-0.687,"t":")"},{"x":-0.167,"y":0.415,"t":"C"}]},"mark":{"type":"text","fontSize":24,"align":"left","baseline":"middle","color":"#000"},"encoding":{"x":{"field":"x","type":"quantitative","axis":{"title":null}},"y":{"field":"y","type":"quantitative","axis":{"title":null}},"text":{"field":"t"}}},
{"data":{"values":[{"x":0.102,"y":-0.731,"t":"C+"},{"x":-0.244,"y":0.469,"t":"+"}]},"mark":{"type":"text","fontSize":15.5,"align":"left","baseline":"middle","color":"#000"},"encoding":{"x":{"field":"x","type":"quantitative","axis":{"title":null}},"y":{"field":"y","type":"quantitative","axis":{"title":null}},"text":{"field":"t"}}},
{"data":{"values":[{"x":0.593,"y":-0.142,"t":"Relative phase"},{"x":0.593,"y":1.855,"t":"/ rad"}]},"mark":{"type":"text","fontSize":22,"align":"left","baseline":"middle","angle":270,"color":"#000"},"encoding":{"x":{"field":"x","type":"quantitative","axis":{"title":null}},"y":{"field":"y","type":"quantitative","axis":{"title":null}},"text":{"field":"t"}}},
{"data":{"values":[{"x":0.593,"y":1.56,"t":"ϕ"}]},"mark":{"type":"text","fontSize":24,"fontStyle":"italic","align":"left","baseline":"middle","angle":270,"color":"#000"},"encoding":{"x":{"field":"x","type":"quantitative","axis":{"title":null}},"y":{"field":"y","type":"quantitative","axis":{"title":null}},"text":{"field":"t"}}}
]},
{"layer":[
{"data":{"name":"fit"},"mark":{"type":"line","interpolate":"cardinal","color":"#3f1a5f","strokeWidth":1.6},"encoding":{"x":{"field":"a","type":"quantitative","scale":{"domain":[0.137,-0.139],"range":[606.7,729],"padding":0,"nice":false,"zero":false},"axis":{"title":null,"orient":"top","offset":-124.3,"values":[0.1,0,-0.1],"domain":true,"domainColor":"#5b2e7e","tickColor":"#5b2e7e","labelColor":"#4a1d6a","tickSize":6,"labelFontSize":22,"labelAngle":270,"labelAlign":"left","labelBaseline":"middle","labelPadding":9,"labelExpr":"''+datum.value"}},"y":{"field":"phi","type":"quantitative","scale":{"domain":[-0.1,2.4],"range":[354.3,124.3],"padding":0,"nice":false,"zero":false},"axis":null},"order":{"field":"phi","type":"quantitative"}}},
{"data":{"name":"circ"},"mark":{"type":"circle","color":"#3f1a5f","size":68,"opacity":1},"encoding":{"x":{"field":"a","type":"quantitative","axis":{"title":null}},"y":{"field":"phi","type":"quantitative","axis":null}}}
]},
{"layer":[
{"data":{"values":[{"x0":0,"x1":2.5,"y0":0,"y1":1.06}]},"mark":{"type":"rect","fillOpacity":0,"stroke":"#666","strokeWidth":1},"encoding":{"x":{"field":"x0","type":"quantitative","scale":{"domain":[0,2.5],"range":[729.3,1038.7],"padding":0,"nice":false,"zero":false},"axis":null},"x2":{"field":"x1"},"y":{"field":"y0","type":"quantitative","scale":{"domain":[0,1.06],"range":[123.3,29],"padding":0,"nice":false,"zero":false},"axis":{"title":null,"orient":"right","offset":-303.3,"values":[0,1],"domain":false,"tickSize":7,"tickColor":"#666","labelFontSize":23,"labelPadding":6,"labelExpr":"''+datum.value"}},"y2":{"field":"y1"}}},
{"data":{"name":"total"},"mark":{"type":"line","color":"#000","strokeWidth":1.7},"encoding":{"x":{"field":"e","type":"quantitative","axis":null},"y":{"field":"y","type":"quantitative","axis":{"title":null}}}},
{"data":{"name":"perp"},"mark":{"type":"line","color":"#1a2cf0","strokeWidth":1.8,"strokeDash":[7,5]},"encoding":{"x":{"field":"e","type":"quantitative","axis":null},"y":{"field":"y","type":"quantitative","axis":{"title":null}}}},
{"data":{"name":"par"},"mark":{"type":"line","color":"#f01a1a","strokeWidth":1.8,"strokeDash":[2.5,2.5]},"encoding":{"x":{"field":"e","type":"quantitative","axis":null},"y":{"field":"y","type":"quantitative","axis":{"title":null}}}},
{"data":{"values":[{"x":1.77,"x2":1.96,"y":0.917}]},"mark":{"type":"rule","color":"#000","strokeWidth":1.7},"encoding":{"x":{"field":"x","type":"quantitative","axis":null},"x2":{"field":"x2"},"y":{"field":"y","type":"quantitative","axis":{"title":null}}}},
{"data":{"values":[{"x":1.77,"x2":1.96,"y":0.655}]},"mark":{"type":"rule","color":"#1a2cf0","strokeWidth":1.8,"strokeDash":[7,5]},"encoding":{"x":{"field":"x","type":"quantitative","axis":null},"x2":{"field":"x2"},"y":{"field":"y","type":"quantitative","axis":{"title":null}}}},
{"data":{"values":[{"x":1.77,"x2":1.96,"y":0.43}]},"mark":{"type":"rule","color":"#f01a1a","strokeWidth":1.8,"strokeDash":[2.5,2.5]},"encoding":{"x":{"field":"x","type":"quantitative","axis":null},"x2":{"field":"x2"},"y":{"field":"y","type":"quantitative","axis":{"title":null}}}},
{"data":{"values":[{"x":0.143,"y":0.869,"t":"B"}]},"mark":{"type":"text","fontSize":19,"fontWeight":"bold","align":"center","baseline":"middle","color":"#000"},"encoding":{"x":{"field":"x","type":"quantitative","axis":null},"y":{"field":"y","type":"quantitative","axis":{"title":null}},"text":{"field":"t"}}},
{"data":{"values":[{"x":1.218,"y":0.902,"t":"×0.3"},{"x":2.043,"y":0.902,"t":"total"}]},"mark":{"type":"text","fontSize":22,"align":"left","baseline":"middle","color":"#000"},"encoding":{"x":{"field":"x","type":"quantitative","axis":null},"y":{"field":"y","type":"quantitative","axis":{"title":null}},"text":{"field":"t"}}},
{"data":{"values":[{"x":2.019,"y":0.633,"t":"p"}]},"mark":{"type":"text","fontSize":24,"fontWeight":"bold","fontStyle":"italic","align":"left","baseline":"middle","color":"#1a2cf0"},"encoding":{"x":{"field":"x","type":"quantitative","axis":null},"y":{"field":"y","type":"quantitative","axis":{"title":null}},"text":{"field":"t"}}},
{"data":{"values":[{"x":2.148,"y":0.633,"t":"⊥"}]},"mark":{"type":"text","fontSize":20,"align":"left","baseline":"middle","color":"#1a2cf0"},"encoding":{"x":{"field":"x","type":"quantitative","axis":null},"y":{"field":"y","type":"quantitative","axis":{"title":null}},"text":{"field":"t"}}},
{"data":{"values":[{"x":2.334,"y":0.633,"t":"ε"}]},"mark":{"type":"text","fontSize":22,"fontStyle":"italic","align":"left","baseline":"middle","color":"#1a2cf0"},"encoding":{"x":{"field":"x","type":"quantitative","axis":null},"y":{"field":"y","type":"quantitative","axis":{"title":null}},"text":{"field":"t"}}},
{"data":{"values":[{"x":2.019,"y":0.419,"t":"p"}]},"mark":{"type":"text","fontSize":24,"fontWeight":"bold","fontStyle":"italic","align":"left","baseline":"middle","color":"#f01a1a"},"encoding":{"x":{"field":"x","type":"quantitative","axis":null},"y":{"field":"y","type":"quantitative","axis":{"title":null}},"text":{"field":"t"}}},
{"data":{"values":[{"x":2.172,"y":0.419,"t":"//"},{"x":2.31,"y":0.419,"t":"ε"}]},"mark":{"type":"text","fontSize":21,"fontStyle":"italic","align":"left","baseline":"middle","color":"#f01a1a"},"encoding":{"x":{"field":"x","type":"quantitative","axis":null},"y":{"field":"y","type":"quantitative","axis":{"title":null}},"text":{"field":"t"}}},
{"data":{"values":[{"x":2.875,"y":0.52,"t":"yields /"},{"x":3.054,"y":0.531,"t":"arb.units"}]},"mark":{"type":"text","fontSize":23,"align":"center","baseline":"middle","angle":270,"color":"#000"},"encoding":{"x":{"field":"x","type":"quantitative","axis":null},"y":{"field":"y","type":"quantitative","axis":{"title":null}},"text":{"field":"t"}}}
]},
{"layer":[
{"data":{"name":"d"},"mark":{"type":"rect","height":15.7},"encoding":{"x":{"field":"e0","type":"quantitative","scale":{"domain":[0,2.5],"range":[729.3,1038.7],"padding":0,"nice":false,"zero":false},"axis":{"title":null,"orient":"bottom","offset":-278.7,"values":[0,0.5,1,1.5,2,2.5],"domain":false,"tickSize":{"condition":{"test":"datum.value%1==0","value":10},"value":6},"labelFontSize":23,"labelPadding":6,"labelExpr":"datum.value%1==0?''+datum.value:''"}},"x2":{"field":"e1"},"y":{"field":"p","type":"quantitative","scale":{"domain":[-0.1,2.4],"range":[354.3,124.3],"padding":0,"nice":false,"zero":false},"axis":{"title":null,"orient":"left","offset":-729.3,"values":[0,0.25,0.5,0.75,1,1.25,1.5,1.75,2,2.25],"domain":false,"labels":false,"tickSize":-4}},"color":{"field":"v","type":"quantitative","scale":{"scheme":"viridis","domain":[-0.155,0.155]},"legend":null}}},
{"data":{"values":[{"x0":0,"x1":2.5,"y0":-0.1,"y1":2.4}]},"mark":{"type":"rect","fillOpacity":0,"stroke":"#000","strokeWidth":2},"encoding":{"x":{"field":"x0","type":"quantitative","axis":{"title":null}},"x2":{"field":"x1"},"y":{"field":"y0","type":"quantitative","axis":{"title":null}},"y2":{"field":"y1"}}},
{"data":{"values":[{"x":0.119,"y":2.237,"t":"D"}]},"mark":{"type":"text","fontSize":19,"fontWeight":"bold","align":"center","baseline":"middle","color":"white"},"encoding":{"x":{"field":"x","type":"quantitative","axis":{"title":null}},"y":{"field":"y","type":"quantitative","axis":{"title":null}},"text":{"field":"t"}}},
{"data":{"values":[{"x":0.547,"y":-0.731,"t":"E"},{"x":2.576,"y":1.604,"t":"A"},{"x":2.803,"y":1.604,"t":"ϕ"},{"x":3.062,"y":1.604,"t":"E"}]},"mark":{"type":"text","fontSize":24,"fontStyle":"italic","align":"left","baseline":"middle","color":"#000"},"encoding":{"x":{"field":"x","type":"quantitative","axis":{"title":null}},"y":{"field":"y","type":"quantitative","axis":{"title":null}},"text":{"field":"t"}}},
{"data":{"values":[{"x":0.667,"y":-0.764,"t":"kin"},{"x":3.175,"y":1.58,"t":"kin"}]},"mark":{"type":"text","fontSize":17,"align":"left","baseline":"middle","color":"#000"},"encoding":{"x":{"field":"x","type":"quantitative","axis":{"title":null}},"y":{"field":"y","type":"quantitative","axis":{"title":null}},"text":{"field":"t"}}},
{"data":{"values":[{"x":0.951,"y":-0.731,"t":"/ eV"},{"x":2.714,"y":1.604,"t":"("},{"x":2.956,"y":1.604,"t":","},{"x":3.369,"y":1.604,"t":")"}]},"mark":{"type":"text","fontSize":24,"align":"left","baseline":"middle","color":"#000"},"encoding":{"x":{"field":"x","type":"quantitative","axis":{"title":null}},"y":{"field":"y","type":"quantitative","axis":{"title":null}},"text":{"field":"t"}}}
]},
{"layer":[
{"data":{"name":"dbar"},"mark":{"type":"rect","width":17.3,"height":4.8},"encoding":{"x":{"datum":0.5,"type":"quantitative","scale":{"domain":[0,1],"range":[1055,1072.3],"padding":0,"nice":false,"zero":false},"axis":null},"y":{"field":"v","type":"quantitative","scale":{"domain":[-0.155,0.155],"range":[355,221.7],"padding":0,"nice":false,"zero":false},"axis":{"title":null,"orient":"right","offset":-269.7,"values":[-0.1,0,0.1],"domain":false,"tickSize":7,"labelFontSize":23,"labelPadding":2,"labelExpr":"''+datum.value"}},"color":{"field":"v","type":"quantitative","scale":{"scheme":"viridis","domain":[-0.155,0.155]},"legend":null}}},
{"data":{"values":[{"x0":0,"x1":1,"y0":-0.155,"y1":0.155}]},"mark":{"type":"rect","fillOpacity":0,"stroke":"#777","strokeWidth":1},"encoding":{"x":{"field":"x0","type":"quantitative","axis":null},"x2":{"field":"x1"},"y":{"field":"y0","type":"quantitative","axis":{"title":null}},"y2":{"field":"y1"}}}
]}
]}
